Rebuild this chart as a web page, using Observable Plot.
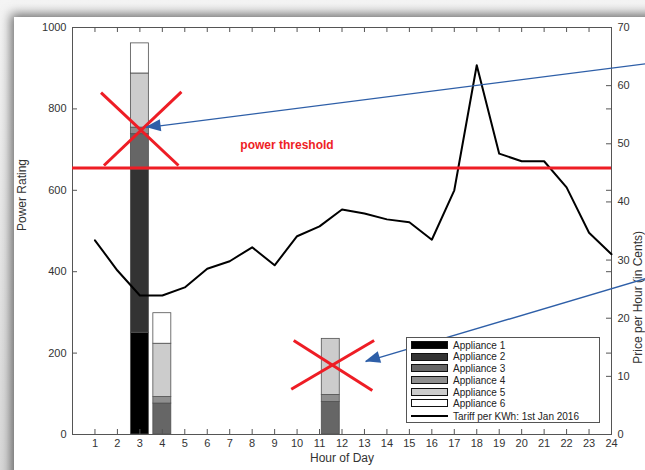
<!DOCTYPE html>
<html>
<head>
<meta charset="utf-8">
<script src="https://cdn.jsdelivr.net/npm/d3@7"></script>
<script src="https://cdn.jsdelivr.net/npm/@observablehq/plot@0.6"></script>
<style>
  html, body { margin: 0; padding: 0; background: #fff; width: 645px; height: 470px; overflow: hidden; }
  #wrap { position: relative; width: 645px; height: 470px; overflow: hidden; background: linear-gradient(#f4f4f4, #d8d8d8); }
  #paper { position: absolute; left: 14px; top: 17px; width: 720px; height: 520px; background: #fff;
           box-shadow: -3px -3px 10px rgba(0,0,0,0.55); }
  #chart { position: absolute; left: 0; top: 0; }
  #legend { position: absolute; left: 406px; top: 337px; width: 192px; height: 84px; border: 1px solid #555;
            background: #fff; font-family: "Liberation Sans", Arial, sans-serif; font-size: 10px; color: #222; }
  .row { position: absolute; left: 4px; height: 12px; display: flex; align-items: center; }
  .sw { width: 35px; height: 6px; border: 1px solid #111; margin-right: 5px; }
  .ln { width: 37px; height: 2px; background: #000; margin-right: 5px; }
</style>
</head>
<body>
<div id="wrap">
  <div id="paper"></div>
  <div id="chart"></div>
  <div id="legend"></div>
</div>
<script>
// ---- data ----
const hours = [1,2,3,4,5,6,7,8,9,10,11,12,13,14,15,16,17,18,19,20,21,22,23,24];
const tariff = [33.4,28.2,23.9,23.9,25.3,28.5,29.8,32.2,29.1,34.1,35.8,38.7,38.0,37.0,36.5,33.5,42.0,63.5,48.3,47.0,47.0,42.5,34.7,31.0];
const barHours = [3, 4, 11.5];
const appliances = ["Appliance 1","Appliance 2","Appliance 3","Appliance 4","Appliance 5","Appliance 6"];
const appliance1 = [250, 0, 0];
const appliance2 = [401, 0, 0];
const appliance3 = [87, 76, 80];
const appliance4 = [16, 16, 17];
const appliance5 = [133, 131, 138];
const appliance6 = [74, 75, 0];
const applianceColors = ["#000000","#333333","#666666","#8f8f8f","#cccccc","#ffffff"];
const tariffLabel = "Tariff per KWh: 1st Jan 2016";
const xTicks = hours;
const leftTicks = [0,200,400,600,800,1000];
const rightTicks = [0,10,20,30,40,50,60,70];
const rightMax = 70;
const threshold = 655;
const thresholdLabel = {x: 9.55, y: 712, text: "power threshold"};
const crossLines = [
  {x1: 1.27, y1: 840, x2: 4.72, y2: 661},
  {x1: 4.85, y1: 842, x2: 1.40, y2: 661},
  {x1: 9.85, y1: 231, x2: 13.35, y2: 108},
  {x1: 13.43, y1: 231, x2: 9.74, y2: 111}
];
const arrows = [
  {x1: 25.7, y1: 912, x2: 3.28, y2: 754},
  {x1: 25.7, y1: 386, x2: 13.05, y2: 179}
];

// ---- build stacked rows ----
const series = [appliance1, appliance2, appliance3, appliance4, appliance5, appliance6];
const rows = [];
barHours.forEach((h, i) => {
  let base = 0;
  series.forEach((s, k) => {
    const v = s[i];
    if (v > 0) {
      rows.push({hour: h, appliance: appliances[k], y1: base, y2: base + v});
      base += v;
    }
  });
});
const tariffRows = hours.map((h, i) => ({hour: h, v: tariff[i] * 1000 / rightMax}));

const W = 645, H = 470, mL = 72, mR = 34, mT = 27, mB = 36;
const innerW = W - mL - mR, innerH = H - mT - mB;
const font = "'Liberation Sans', Arial, Helvetica, sans-serif";
const red = "#ee1d25", blue = "#2e5fa8", axisCol = "#555";

const plot = Plot.plot({
  width: W, height: H,
  marginLeft: mL, marginRight: mR, marginTop: mT, marginBottom: mB,
  x: {domain: [0, 24], axis: null},
  y: {domain: [0, 1000], axis: null},
  color: {domain: appliances, range: applianceColors},
  style: {background: "transparent", fontFamily: font, fontSize: "11px", color: "#333", overflow: "visible"},
  marks: [
    Plot.rect(rows, {x1: d => d.hour - 0.4, x2: d => d.hour + 0.4, y1: "y1", y2: "y2", fill: "appliance", stroke: "#505050", strokeWidth: 0.8}),
    Plot.frame({stroke: axisCol, strokeWidth: 1}),
    // inward tick marks
    Plot.tickX(xTicks, {x: d => d, stroke: axisCol, insetTop: innerH - 5}),
    Plot.tickX(xTicks, {x: d => d, stroke: axisCol, insetBottom: innerH - 5}),
    Plot.tickY(leftTicks, {y: d => d, stroke: axisCol, insetRight: innerW - 5}),
    Plot.tickY(leftTicks, {y: d => d, stroke: axisCol, insetLeft: innerW - 5}),
    Plot.tickY(rightTicks.map(v => v * 1000 / rightMax), {y: d => d, stroke: axisCol, insetLeft: innerW - 5}),
    // tick labels
    Plot.axisX(xTicks, {tickSize: 0, tickPadding: 5, label: null, fontSize: 11, tickFormat: d => String(d)}),
    Plot.axisY(leftTicks, {anchor: "left", tickSize: 0, tickPadding: 6, label: null, fontSize: 11, tickFormat: d => String(d)}),
    Plot.axisY(rightTicks.map(v => v * 1000 / rightMax), {anchor: "right", tickSize: 0, tickPadding: 6, label: null, fontSize: 11,
      tickFormat: d => String(Math.round(d * rightMax / 1000))}),
    // axis titles
    Plot.text(["Power Rating"], {frameAnchor: "left", dx: -50, rotate: -90, fontSize: 12, fill: "#333"}),
    Plot.text(["Price per Hour (in Cents)"], {frameAnchor: "right", dx: 27, rotate: -90, fontSize: 12, fill: "#333"}),
    Plot.text(["Hour of Day"], {frameAnchor: "bottom", dy: 19, lineAnchor: "top", fontSize: 12, fill: "#333"}),
    // tariff line
    Plot.line(tariffRows, {x: "hour", y: "v", stroke: "#000", strokeWidth: 2}),
    // threshold
    Plot.ruleY([threshold], {stroke: red, strokeWidth: 3}),
    Plot.text([thresholdLabel], {x: "x", y: "y", text: "text", fill: red, fontWeight: "bold", fontSize: 12}),
    // crosses
    Plot.link(crossLines, {x1: "x1", y1: "y1", x2: "x2", y2: "y2", stroke: red, strokeWidth: 3}),
    // arrow shafts
    Plot.link(arrows, {x1: "x1", y1: "y1", x2: "x2", y2: "y2", stroke: blue, strokeWidth: 1.4})
  ]
});
document.getElementById("chart").appendChild(plot);

// filled arrow heads placed with the plot's own scales
const sx = plot.scale("x"), sy = plot.scale("y");
const svg = d3.select(plot);
arrows.forEach(a => {
  const tx = sx.apply(a.x2), ty = sy.apply(a.y2);
  const fx = sx.apply(a.x1), fy = sy.apply(a.y1);
  const len = Math.hypot(tx - fx, ty - fy);
  const ux = (tx - fx) / len, uy = (ty - fy) / len;
  const L = 15, hw = 6;
  const bx = tx - ux * L, by = ty - uy * L;
  const pts = [[tx, ty], [bx - uy * hw, by + ux * hw], [bx + uy * hw, by - ux * hw]];
  svg.append("polygon").attr("points", pts.map(p => p.join(",")).join(" ")).attr("fill", blue);
});

// legend
const legend = document.getElementById("legend");
const rowTops = [1, 12.5, 24, 36, 48, 59, 72];
appliances.forEach((name, k) => {
  const r = document.createElement("div");
  r.className = "row"; r.style.top = rowTops[k] + "px";
  r.innerHTML = `<span class="sw" style="background:${applianceColors[k]}"></span><span>${name}</span>`;
  legend.appendChild(r);
});
const lr = document.createElement("div");
lr.className = "row"; lr.style.top = rowTops[6] + "px";
lr.innerHTML = `<span class="ln"></span><span>${tariffLabel}</span>`;
legend.appendChild(lr);
</script>
</body>
</html>
